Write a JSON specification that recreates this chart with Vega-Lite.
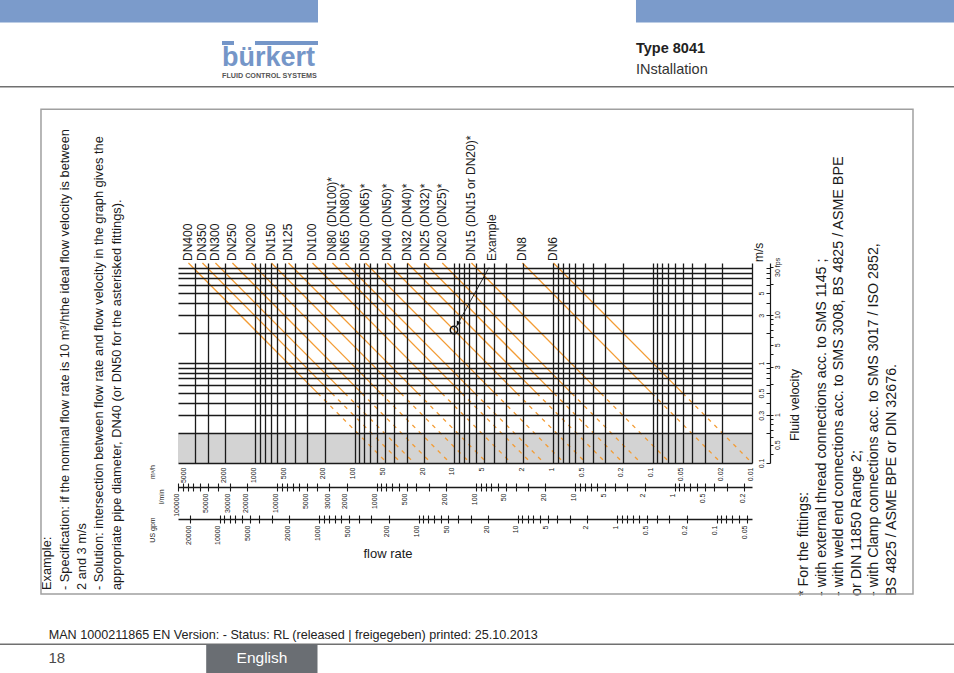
{
  "$schema": "https://vega.github.io/schema/vega-lite/v6.json",
  "width": 574,
  "height": 200,
  "autosize": {"type": "none"},
  "padding": {"left": 178, "top": 263, "right": 202, "bottom": 210},
  "background": "white",
  "config": {"view": {"stroke": null}, "font": "Liberation Sans"},
  "datasets": {
    "dn_lines": [
      {"dn":"DN400","part":"solid","q":4710,"v":10},{"dn":"DN400","part":"solid","q":235.5,"v":0.5},{"dn":"DN400","part":"dashed","q":235.5,"v":0.5},{"dn":"DN400","part":"dashed","q":47.1,"v":0.1},
      {"dn":"DN350","part":"solid","q":3404,"v":10},{"dn":"DN350","part":"solid","q":170.2,"v":0.5},{"dn":"DN350","part":"dashed","q":170.2,"v":0.5},{"dn":"DN350","part":"dashed","q":34.04,"v":0.1},
      {"dn":"DN300","part":"solid","q":2519,"v":10},{"dn":"DN300","part":"solid","q":125.9,"v":0.5},{"dn":"DN300","part":"dashed","q":125.9,"v":0.5},{"dn":"DN300","part":"dashed","q":25.19,"v":0.1},
      {"dn":"DN250","part":"solid","q":1699,"v":10},{"dn":"DN250","part":"solid","q":84.94,"v":0.5},{"dn":"DN250","part":"dashed","q":84.94,"v":0.5},{"dn":"DN250","part":"dashed","q":16.99,"v":0.1},
      {"dn":"DN200","part":"solid","q":1093,"v":10},{"dn":"DN200","part":"solid","q":54.67,"v":0.5},{"dn":"DN200","part":"dashed","q":54.67,"v":0.5},{"dn":"DN200","part":"dashed","q":10.93,"v":0.1},
      {"dn":"DN150","part":"solid","q":687.8,"v":10},{"dn":"DN150","part":"solid","q":34.39,"v":0.5},{"dn":"DN150","part":"dashed","q":34.39,"v":0.5},{"dn":"DN150","part":"dashed","q":6.878,"v":0.1},
      {"dn":"DN125","part":"solid","q":463.3,"v":10},{"dn":"DN125","part":"solid","q":23.17,"v":0.5},{"dn":"DN125","part":"dashed","q":23.17,"v":0.5},{"dn":"DN125","part":"dashed","q":4.633,"v":0.1},
      {"dn":"DN100","part":"solid","q":265.6,"v":10},{"dn":"DN100","part":"solid","q":13.28,"v":0.5},{"dn":"DN100","part":"dashed","q":13.28,"v":0.5},{"dn":"DN100","part":"dashed","q":2.656,"v":0.1},
      {"dn":"DN80","part":"solid","q":167.2,"v":10},{"dn":"DN80","part":"solid","q":8.361,"v":0.5},{"dn":"DN80","part":"dashed","q":8.361,"v":0.5},{"dn":"DN80","part":"dashed","q":1.672,"v":0.1},
      {"dn":"DN65","part":"solid","q":123.8,"v":10},{"dn":"DN65","part":"solid","q":6.189,"v":0.5},{"dn":"DN65","part":"dashed","q":6.189,"v":0.5},{"dn":"DN65","part":"dashed","q":1.238,"v":0.1},
      {"dn":"DN50","part":"solid","q":77.78,"v":10},{"dn":"DN50","part":"solid","q":3.889,"v":0.5},{"dn":"DN50","part":"dashed","q":3.889,"v":0.5},{"dn":"DN50","part":"dashed","q":0.7778,"v":0.1},
      {"dn":"DN40","part":"solid","q":46.78,"v":10},{"dn":"DN40","part":"solid","q":2.339,"v":0.5},{"dn":"DN40","part":"dashed","q":2.339,"v":0.5},{"dn":"DN40","part":"dashed","q":0.4678,"v":0.1},
      {"dn":"DN32","part":"solid","q":29.44,"v":10},{"dn":"DN32","part":"solid","q":1.472,"v":0.5},{"dn":"DN32","part":"dashed","q":1.472,"v":0.5},{"dn":"DN32","part":"dashed","q":0.2944,"v":0.1},
      {"dn":"DN25","part":"solid","q":19.78,"v":10},{"dn":"DN25","part":"solid","q":0.9889,"v":0.5},{"dn":"DN25","part":"dashed","q":0.9889,"v":0.5},{"dn":"DN25","part":"dashed","q":0.1978,"v":0.1},
      {"dn":"DN20","part":"solid","q":13.11,"v":10},{"dn":"DN20","part":"solid","q":0.6556,"v":0.5},{"dn":"DN20","part":"dashed","q":0.6556,"v":0.5},{"dn":"DN20","part":"dashed","q":0.1311,"v":0.1},
      {"dn":"DN15","part":"solid","q":6.667,"v":10},{"dn":"DN15","part":"solid","q":0.3333,"v":0.5},{"dn":"DN15","part":"dashed","q":0.3333,"v":0.5},{"dn":"DN15","part":"dashed","q":0.06667,"v":0.1},
      {"dn":"DN8","part":"solid","q":2.044,"v":10},{"dn":"DN8","part":"solid","q":0.1022,"v":0.5},{"dn":"DN8","part":"dashed","q":0.1022,"v":0.5},{"dn":"DN8","part":"dashed","q":0.02044,"v":0.1},
      {"dn":"DN6","part":"solid","q":0.9967,"v":10},{"dn":"DN6","part":"solid","q":0.04983,"v":0.5},{"dn":"DN6","part":"dashed","q":0.04983,"v":0.5},{"dn":"DN6","part":"dashed","q":0.01,"v":0.1}
    ],
    "dn_labels": [
      {"label":"DN400","q":4710},{"label":"DN350","q":3404},{"label":"DN300","q":2519},{"label":"DN250","q":1699},
      {"label":"DN200","q":1093},{"label":"DN150","q":687.8},{"label":"DN125","q":463.3},{"label":"DN100","q":265.6},
      {"label":"DN80 (DN100)*","q":167.2},{"label":"DN65 (DN80)*","q":123.8},{"label":"DN50 (DN65)*","q":77.78},
      {"label":"DN40 (DN50)*","q":46.78},{"label":"DN32 (DN40)*","q":29.44},{"label":"DN25 (DN32)*","q":19.78},
      {"label":"DN20 (DN25)*","q":13.11},{"label":"DN15 (DN15 or DN20)*","q":6.667},{"label":"Example","q":4.17},
      {"label":"DN8","q":2.044},{"label":"DN6","q":0.9967}
    ],
    "example_point": [{"case":"10 m³/h at 2-3 m/s","q":10,"v":2.138}],
    "example_arrow": [{"q":4.442,"v":9},{"q":9.434,"v":2.333}],
    "arrow_head": [{"q":9.124,"v":2.477}],
    "low_velocity_zone": [{"v_low":0.1,"v_high":0.2}]
  },
  "layer": [
    {
      "layer": [
        {
          "data": {"name": "low_velocity_zone"},
          "mark": {"type": "rect", "fill": "#d3d3d3"},
          "encoding": {
            "y": {"field": "v_low", "type": "quantitative", "scale": {"type": "log", "domain": [0.1, 10], "nice": false}, "axis": null},
            "y2": {"field": "v_high"}
          }
        },
        {
          "data": {"name": "dn_lines"},
          "transform": [{"filter": "datum.part == 'solid'"}],
          "mark": {"type": "line", "color": "#f39c34", "strokeWidth": 1.3},
          "encoding": {
            "x": {"field": "q", "type": "quantitative", "scale": {"type": "log", "domain": [0.01, 6000], "reverse": true, "nice": false},
              "axis": {"orient": "bottom", "values": [0.01,0.02,0.03,0.04,0.05,0.06,0.07,0.08,0.09,0.1,0.2,0.3,0.4,0.5,0.6,0.7,0.8,0.9,1,2,3,4,5,6,7,8,9,10,20,30,40,50,60,70,80,90,100,200,300,400,500,600,700,800,900,1000,2000,3000,4000],
                "grid": true, "gridColor": "#1a1a1a", "gridWidth": 1.3, "gridOpacity": 1, "domain": false, "ticks": false, "labels": false, "title": null, "zindex": 1}},
            "y": {"field": "v", "type": "quantitative", "scale": {"type": "log", "domain": [0.1, 10], "nice": false},
              "axis": {"orient": "left", "values": [0.1,0.2,0.3,0.4,0.5,0.6,0.7,0.8,0.9,1,2,3,4,5,6,7,8,9],
                "grid": true, "gridColor": "#1a1a1a", "gridWidth": 1.3, "gridOpacity": 1, "domain": false, "ticks": false, "labels": false, "title": null, "zindex": 1}},
            "detail": {"field": "dn"}
          }
        },
        {
          "data": {"name": "dn_lines"},
          "transform": [{"filter": "datum.part == 'dashed'"}],
          "mark": {"type": "line", "color": "#f39c34", "strokeWidth": 1.3, "strokeDash": [4, 5], "clip": true},
          "encoding": {
            "x": {"field": "q", "type": "quantitative", "scale": {"type": "log", "domain": [0.01, 6000], "reverse": true, "nice": false},
              "axis": {"orient": "bottom", "values": [5000,2000,1000,500,200,100,50,20,10,5,2,1,0.5,0.2,0.1,0.05,0.02,0.01], "format": "~g",
                "grid": false, "domain": false, "ticks": false, "tickSize": 0, "labelAngle": 270, "labelAlign": "right", "labelBaseline": "alphabetic",
                "labelPadding": 4, "labelFont": "Liberation Sans Narrow, Liberation Sans, sans-serif", "labelFontSize": 7, "labelColor": "#222222",
                "labelOverlap": false, "labelFlush": false, "labelBound": false, "title": null}},
            "y": {"field": "v", "type": "quantitative", "scale": {"type": "log", "domain": [0.1, 10], "nice": false},
              "axis": {"orient": "left", "offset": -592, "values": [0.1,0.2,0.3,0.4,0.5,0.6,0.7,0.8,0.9,1,2,3,4,5,6,7,8,9], "format": "~g",
                "labelExpr": "indexof([5,3,1,0.5,0.3,0.1], datum.value) >= 0 ? datum.label : ''",
                "grid": false, "domain": true, "domainColor": "#1a1a1a", "domainWidth": 1.2, "ticks": true, "tickSize": 4, "tickColor": "#1a1a1a", "tickWidth": 1,
                "labelAngle": 270, "labelAlign": "center", "labelBaseline": "bottom", "labelPadding": 2,
                "labelFont": "Liberation Sans Narrow, Liberation Sans, sans-serif", "labelFontSize": 7, "labelColor": "#222222",
                "labelOverlap": false, "labelFlush": false, "labelBound": false, "title": null}},
            "detail": {"field": "dn"}
          }
        },
        {
          "data": {"name": "example_point"},
          "mark": {"type": "point", "shape": "circle", "filled": false, "stroke": "#111111", "strokeWidth": 1.5, "size": 55, "opacity": 1},
          "encoding": {
            "x": {"field": "q", "type": "quantitative", "axis": null},
            "y": {"field": "v", "type": "quantitative", "axis": null}
          }
        },
        {
          "data": {"name": "example_arrow"},
          "mark": {"type": "line", "color": "#111111", "strokeWidth": 0.9},
          "encoding": {
            "x": {"field": "q", "type": "quantitative", "axis": null},
            "y": {"field": "v", "type": "quantitative", "axis": null}
          }
        },
        {
          "data": {"name": "arrow_head"},
          "mark": {"type": "point", "shape": "triangle-down", "filled": true, "color": "#111111", "size": 26, "angle": 29, "opacity": 1},
          "encoding": {
            "x": {"field": "q", "type": "quantitative", "axis": null},
            "y": {"field": "v", "type": "quantitative", "axis": null}
          }
        },
        {
          "data": {"name": "dn_labels"},
          "mark": {"type": "text", "angle": 270, "align": "left", "baseline": "middle", "dx": 2, "fontSize": 12, "color": "#1a1a1a"},
          "encoding": {
            "x": {"field": "q", "type": "quantitative", "axis": null},
            "y": {"datum": 10, "axis": null},
            "text": {"field": "label"}
          }
        },
        {
          "data": {"values": [{"note": "m/s"}]},
          "mark": {"type": "text", "angle": 270, "align": "left", "baseline": "middle", "fontSize": 12, "color": "#1a1a1a"},
          "encoding": {"x": {"datum": 0.008503, "axis": null}, "y": {"datum": 10.23, "axis": null}, "text": {"field": "note"}}
        },
        {
          "data": {"values": [{"note": "Fluid velocity"}]},
          "mark": {"type": "text", "angle": 270, "align": "center", "baseline": "middle", "fontSize": 12.5, "color": "#1a1a1a"},
          "encoding": {"x": {"datum": 0.003693, "axis": null}, "y": {"datum": 0.3802, "axis": null}, "text": {"field": "note"}}
        },
        {
          "data": {"values": [{"note": "flow rate"}]},
          "mark": {"type": "text", "align": "center", "baseline": "middle", "fontSize": 13, "color": "#1a1a1a"},
          "encoding": {"x": {"datum": 46.15, "axis": null}, "y": {"datum": 0.0123, "axis": null}, "text": {"field": "note"}}
        },
        {
          "data": {"values": [{"note": "m³/h"}]},
          "mark": {"type": "text", "angle": 270, "align": "center", "baseline": "middle", "fontSize": 7, "font": "Liberation Sans Narrow, Liberation Sans, sans-serif", "color": "#222222"},
          "encoding": {"x": {"datum": 10713, "axis": null}, "y": {"datum": 0.08128, "axis": null}, "text": {"field": "note"}}
        },
        {
          "data": {"values": [{"note": "l/min"}]},
          "mark": {"type": "text", "angle": 270, "align": "center", "baseline": "middle", "fontSize": 7, "font": "Liberation Sans Narrow, Liberation Sans, sans-serif", "color": "#222222"},
          "encoding": {"x": {"datum": 8758, "axis": null}, "y": {"datum": 0.04603, "axis": null}, "text": {"field": "note"}}
        },
        {
          "data": {"values": [{"note": "US gpm"}]},
          "mark": {"type": "text", "angle": 270, "align": "center", "baseline": "middle", "fontSize": 7, "font": "Liberation Sans Narrow, Liberation Sans, sans-serif", "color": "#222222"},
          "encoding": {"x": {"datum": 10713, "axis": null}, "y": {"datum": 0.02138, "axis": null}, "text": {"field": "note"}}
        },
        {
          "data": {"values": [{"block": "example"}]},
          "mark": {"type": "text", "angle": 270, "align": "left", "baseline": "alphabetic", "fontSize": 12.8, "lineHeight": 17.3, "color": "#1a1a1a"},
          "encoding": {"x": {"datum": 112900, "axis": null}, "y": {"datum": 0.00537, "axis": null},
            "text": {"value": ["Example:", "- Specification: if the nominal flow rate is 10 m³/hthe ideal flow velocity is between", "2 and 3 m/s", "- Solution: intersection between flow rate and flow velocity in the graph gives the", "appropriate pipe diameter, DN40 (or DN50 for the asterisked fittings)."]}}
        },
        {
          "data": {"values": [{"block": "fittings"}]},
          "mark": {"type": "text", "angle": 270, "align": "left", "baseline": "alphabetic", "fontSize": 14.3, "lineHeight": 17.6, "color": "#1a1a1a"},
          "encoding": {"x": {"datum": 0.002736, "axis": null}, "y": {"datum": 0.004677, "axis": null},
            "text": {"value": ["* For the fittings:", "- with external thread connections acc. to SMS 1145 ;", "- with weld end connections acc. to SMS 3008, BS 4825 / ASME BPE", "or DIN 11850 Range 2;", "- with Clamp connections acc. to SMS 3017 / ISO 2852,", "BS 4825 / ASME BPE or DIN 32676."]}}
        },
        {
          "data": {"values": [{"element": "frame"}]},
          "mark": {"type": "rect", "fill": null, "fillOpacity": 0, "stroke": "#a0a0a0", "strokeWidth": 1.5},
          "encoding": {"x": {"datum": 143650, "axis": null}, "x2": {"datum": 0.0002395}, "y": {"datum": 344.4, "axis": null}, "y2": {"datum": 0.004898}}
        },
        {
          "data": {"values": [{"element": "header band left"}]},
          "mark": {"type": "rect", "fill": "#7b9bcb"},
          "encoding": {"x": {"datum": 400000, "axis": null}, "x2": {"datum": 233.8}, "y": {"datum": 5000, "axis": null}, "y2": {"datum": 2541}}
        },
        {
          "data": {"values": [{"element": "header band right"}]},
          "mark": {"type": "rect", "fill": "#7b9bcb"},
          "encoding": {"x": {"datum": 0.1472, "axis": null}, "x2": {"datum": 0.00008}, "y": {"datum": 5000, "axis": null}, "y2": {"datum": 2541}}
        },
        {
          "data": {"values": [{"element": "logo bar b"}]},
          "mark": {"type": "rect", "fill": "#7596c8"},
          "encoding": {"x": {"datum": 2164, "axis": null}, "x2": {"datum": 1638.7}, "y": {"datum": 1659.6, "axis": null}, "y2": {"datum": 1513.6}}
        },
        {
          "data": {"values": [{"element": "logo bar rkert"}]},
          "mark": {"type": "rect", "fill": "#7596c8"},
          "encoding": {"x": {"datum": 1007.2, "axis": null}, "x2": {"datum": 233.8}, "y": {"datum": 1659.6, "axis": null}, "y2": {"datum": 1513.6}}
        },
        {
          "data": {"values": [{"note": "bürkert"}]},
          "mark": {"type": "text", "align": "left", "baseline": "alphabetic", "fontSize": 27, "fontWeight": "bold", "color": "#7596c8"},
          "encoding": {"x": {"datum": 2164, "axis": null}, "y": {"datum": 942.6, "axis": null}, "text": {"field": "note"}}
        },
        {
          "data": {"values": [{"note": "FLUID CONTROL SYSTEMS"}]},
          "mark": {"type": "text", "align": "left", "baseline": "alphabetic", "fontSize": 7.2, "fontWeight": "bold", "color": "#555555"},
          "encoding": {"x": {"datum": 2164, "axis": null}, "y": {"datum": 707.9, "axis": null}, "text": {"field": "note"}}
        },
        {
          "data": {"values": [{"note": "Type 8041"}]},
          "mark": {"type": "text", "align": "left", "baseline": "alphabetic", "fontSize": 14.5, "fontWeight": "bold", "color": "#222222"},
          "encoding": {"x": {"datum": 0.1472, "axis": null}, "y": {"datum": 1273.5, "axis": null}, "text": {"field": "note"}}
        },
        {
          "data": {"values": [{"note": "INstallation"}]},
          "mark": {"type": "text", "align": "left", "baseline": "alphabetic", "fontSize": 14.5, "color": "#333333"},
          "encoding": {"x": {"datum": 0.1472, "axis": null}, "y": {"datum": 785.2, "axis": null}, "text": {"field": "note"}}
        },
        {
          "data": {"values": [{"element": "header rule"}]},
          "mark": {"type": "rule", "color": "#707070", "strokeWidth": 1.5},
          "encoding": {"x": {"datum": 400000, "axis": null}, "x2": {"datum": 0.00008}, "y": {"datum": 579.4, "axis": null}}
        },
        {
          "data": {"values": [{"element": "footer rule"}]},
          "mark": {"type": "rule", "color": "#707070", "strokeWidth": 1.5},
          "encoding": {"x": {"datum": 400000, "axis": null}, "x2": {"datum": 0.00008}, "y": {"datum": 0.001537, "axis": null}}
        },
        {
          "data": {"values": [{"element": "language tab"}]},
          "mark": {"type": "rect", "fill": "#6a6e73"},
          "encoding": {"x": {"datum": 3121, "axis": null}, "x2": {"datum": 236.5}, "y": {"datum": 0.001537, "axis": null}, "y2": {"datum": 0.0006}}
        },
        {
          "data": {"values": [{"note": "English"}]},
          "mark": {"type": "text", "align": "center", "baseline": "middle", "fontSize": 15.5, "color": "#ffffff"},
          "encoding": {"x": {"datum": 856.2, "axis": null}, "y": {"datum": 0.001122, "axis": null}, "text": {"field": "note"}}
        },
        {
          "data": {"values": [{"note": "18"}]},
          "mark": {"type": "text", "align": "left", "baseline": "middle", "fontSize": 15, "color": "#4a4a4a"},
          "encoding": {"x": {"datum": 120700, "axis": null}, "y": {"datum": 0.001122, "axis": null}, "text": {"field": "note"}}
        },
        {
          "data": {"values": [{"note": "MAN  1000211865  EN  Version: - Status: RL (released | freigegeben)  printed: 25.10.2013"}]},
          "mark": {"type": "text", "align": "left", "baseline": "alphabetic", "fontSize": 12.6, "color": "#222222"},
          "encoding": {"x": {"datum": 120200, "axis": null}, "y": {"datum": 0.001718, "axis": null}, "text": {"field": "note"}}
        }
      ],
      "resolve": {"axis": {"x": "independent", "y": "independent"}}
    },
    {
      "data": {"values": []},
      "layer": [
        {
          "mark": "point",
          "encoding": {
            "x": {"field": "l_per_min", "type": "quantitative", "scale": {"type": "log", "domain": [0.1666667, 100000], "reverse": true, "nice": false},
              "axis": {"orient": "bottom", "offset": 20, "values": [0.2,0.3,0.4,0.5,0.6,0.7,0.8,0.9,1,2,3,4,5,6,7,8,9,10,20,30,40,50,60,70,80,90,100,200,300,400,500,600,700,800,900,1000,2000,3000,4000,5000,6000,7000,8000,9000,10000,20000,30000,40000,50000,60000,70000,80000,90000,100000],
                "domain": false, "labels": false, "ticks": true, "tickSize": 8, "tickColor": "#1a1a1a", "tickWidth": 1.1, "grid": false, "title": null}}
          }
        },
        {
          "mark": "point",
          "encoding": {
            "x": {"field": "l_per_min", "type": "quantitative", "scale": {"type": "log", "domain": [0.1666667, 100000], "reverse": true, "nice": false},
              "axis": {"orient": "bottom", "offset": 24, "values": [100000,50000,30000,20000,10000,5000,3000,2000,1000,500,200,100,50,20,10,5,2,1,0.5,0.2], "format": "~g",
                "domain": true, "domainColor": "#1a1a1a", "domainWidth": 1.3, "ticks": false, "tickSize": 0, "grid": false,
                "labelAngle": 270, "labelAlign": "right", "labelBaseline": "alphabetic", "labelPadding": 6,
                "labelFont": "Liberation Sans Narrow, Liberation Sans, sans-serif", "labelFontSize": 7, "labelColor": "#222222",
                "labelOverlap": false, "labelFlush": false, "labelBound": false, "title": null}}
          }
        }
      ],
      "resolve": {"axis": {"x": "independent"}}
    },
    {
      "data": {"values": []},
      "layer": [
        {
          "mark": "point",
          "encoding": {
            "x": {"field": "us_gpm", "type": "quantitative", "scale": {"type": "log", "domain": [0.04402868, 26417.2], "reverse": true, "nice": false},
              "axis": {"orient": "bottom", "offset": 52, "values": [0.05,0.06,0.07,0.08,0.09,0.1,0.2,0.3,0.4,0.5,0.6,0.7,0.8,0.9,1,2,3,4,5,6,7,8,9,10,20,30,40,50,60,70,80,90,100,200,300,400,500,600,700,800,900,1000,2000,3000,4000,5000,6000,7000,8000,9000,10000,20000],
                "domain": false, "labels": false, "ticks": true, "tickSize": 8, "tickColor": "#1a1a1a", "tickWidth": 1.1, "grid": false, "title": null}}
          }
        },
        {
          "mark": "point",
          "encoding": {
            "x": {"field": "us_gpm", "type": "quantitative", "scale": {"type": "log", "domain": [0.04402868, 26417.2], "reverse": true, "nice": false},
              "axis": {"orient": "bottom", "offset": 56, "values": [20000,10000,5000,2000,1000,500,200,100,50,20,10,5,2,1,0.5,0.2,0.1,0.05], "format": "~g",
                "domain": true, "domainColor": "#1a1a1a", "domainWidth": 1.3, "ticks": false, "tickSize": 0, "grid": false,
                "labelAngle": 270, "labelAlign": "right", "labelBaseline": "alphabetic", "labelPadding": 6,
                "labelFont": "Liberation Sans Narrow, Liberation Sans, sans-serif", "labelFontSize": 7, "labelColor": "#222222",
                "labelOverlap": false, "labelFlush": false, "labelBound": false, "title": null}}
          }
        }
      ],
      "resolve": {"axis": {"x": "independent"}}
    },
    {
      "data": {"values": []},
      "mark": "point",
      "encoding": {
        "y": {"field": "fps", "type": "quantitative", "scale": {"type": "log", "domain": [0.328084, 32.8084], "nice": false},
          "axis": {"orient": "right", "offset": 18, "values": [0.3,0.4,0.5,0.6,0.7,0.8,0.9,1,2,3,4,5,6,7,8,9,10,20,30], "format": "~g",
            "labelExpr": "indexof([30,10,5,3,1,0.5,0.3], datum.value) >= 0 ? (datum.value == 30 ? '30 fps' : datum.label) : ''",
            "domain": false, "ticks": true, "tickSize": 3, "tickColor": "#1a1a1a", "tickWidth": 1, "grid": false,
            "labelAngle": 270, "labelAlign": "center", "labelBaseline": "top", "labelPadding": 0,
            "labelFont": "Liberation Sans Narrow, Liberation Sans, sans-serif", "labelFontSize": 7, "labelColor": "#222222",
            "labelOverlap": false, "labelFlush": false, "labelBound": false, "title": null}}
      }
    }
  ],
  "resolve": {"scale": {"x": "independent", "y": "independent"}}
}
